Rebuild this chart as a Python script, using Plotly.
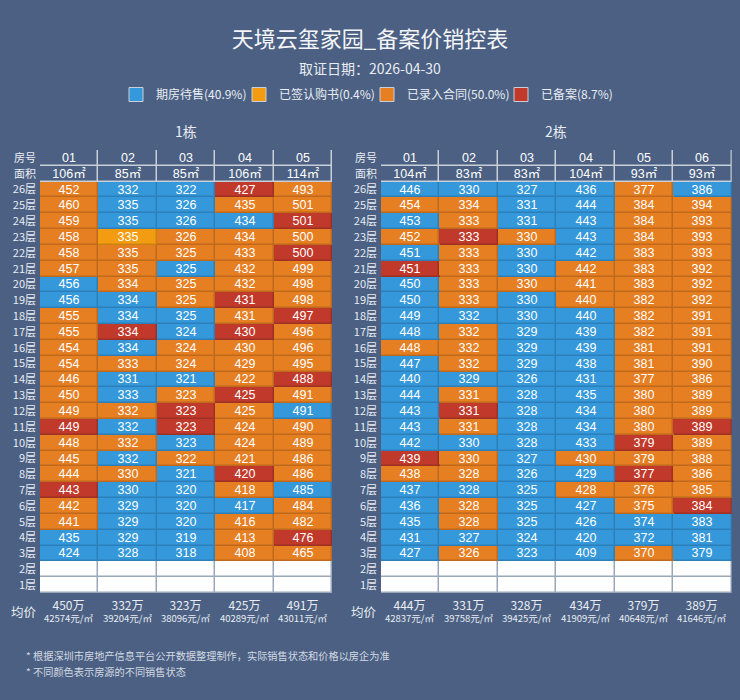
import plotly.graph_objects as go

# ---------------- data ----------------
title_text = "天境云玺家园_备案价销控表"
subtitle_text = "取证日期：2026-04-30"
footer_lines = ["* 根据深圳市房地产信息平台公开数据整理制作，实际销售状态和价格以房企为准",
                "* 不同颜色表示房源的不同销售状态"]

floor_labels = ["26层", "25层", "24层", "23层", "22层", "21层", "20层", "19层", "18层", "17层",
                "16层", "15层", "14层", "13层", "12层", "11层", "10层", "9层", "8层", "7层",
                "6层", "5层", "4层", "3层", "2层", "1层"]
header_labels = ["房号", "面积"]

# status codes: B = 期房待售, Y = 已签认购书, O = 已录入合同, R = 已备案, E = 无房源
status_order = ["B", "Y", "O", "R"]
status_names = {"B": "期房待售", "Y": "已签认购书", "O": "已录入合同", "R": "已备案"}

b1_name = "1栋"
b1_units = ["01", "02", "03", "04", "05"]
b1_areas = ["106㎡", "85㎡", "85㎡", "106㎡", "114㎡"]
b1_prices = [
    [452, 332, 322, 427, 493], [460, 335, 326, 435, 501], [459, 335, 326, 434, 501],
    [458, 335, 326, 434, 500], [458, 335, 325, 433, 500], [457, 335, 325, 432, 499],
    [456, 334, 325, 432, 498], [456, 334, 325, 431, 498], [455, 334, 325, 431, 497],
    [455, 334, 324, 430, 496], [454, 334, 324, 430, 496], [454, 333, 324, 429, 495],
    [446, 331, 321, 422, 488], [450, 333, 323, 425, 491], [449, 332, 323, 425, 491],
    [449, 332, 323, 424, 490], [448, 332, 323, 424, 489], [445, 332, 322, 421, 486],
    [444, 330, 321, 420, 486], [443, 330, 320, 418, 485], [442, 329, 320, 417, 484],
    [441, 329, 320, 416, 482], [435, 329, 319, 413, 476], [424, 328, 318, 408, 465],
    [None] * 5, [None] * 5,
]
b1_status = ["OBBRO", "OBBOO", "OBBBR", "OYOOO", "OOOOR", "OOBOO", "BOOOO", "BBORO",
             "OBBOR", "ORBRO", "OBOOO", "OOOOO", "OBBOR", "OBORO", "OOROB", "RBROO",
             "OOBOO", "OBOOO", "OOBRO", "RBBOB", "OBBBO", "OBBOO", "BBBOR", "BBBOO",
             "EEEEE", "EEEEE"]
b1_avg_total = [450, 332, 323, 425, 491]
b1_avg_unit = [42574, 39204, 38096, 40289, 43011]

b2_name = "2栋"
b2_units = ["01", "02", "03", "04", "05", "06"]
b2_areas = ["104㎡", "83㎡", "83㎡", "104㎡", "93㎡", "93㎡"]
b2_prices = [
    [446, 330, 327, 436, 377, 386], [454, 334, 331, 444, 384, 394], [453, 333, 331, 443, 384, 393],
    [452, 333, 330, 443, 384, 393], [451, 333, 330, 442, 383, 393], [451, 333, 330, 442, 383, 392],
    [450, 333, 330, 441, 383, 392], [450, 333, 330, 440, 382, 392], [449, 332, 330, 440, 382, 391],
    [448, 332, 329, 439, 382, 391], [448, 332, 329, 439, 381, 391], [447, 332, 329, 438, 381, 390],
    [440, 329, 326, 431, 377, 386], [444, 331, 328, 435, 380, 389], [443, 331, 328, 434, 380, 389],
    [443, 331, 328, 434, 380, 389], [442, 330, 328, 433, 379, 389], [439, 330, 327, 430, 379, 388],
    [438, 328, 326, 429, 377, 386], [437, 328, 325, 428, 376, 385], [436, 328, 325, 427, 375, 384],
    [435, 328, 325, 426, 374, 383], [431, 327, 324, 420, 372, 381], [427, 326, 323, 409, 370, 379],
    [None] * 6, [None] * 6,
]
b2_status = ["BBBBOB", "OOBBOO", "BOBBOO", "OROBOO", "BOBBOO", "ROBOOO", "BOOOOO", "BOBOOO",
             "BBBBOO", "BOBBOO", "OOBBOO", "BOBBOO", "BBBBOO", "BOBBOO", "BRBBOO", "BOBBOR",
             "BBBBRO", "ROBOOO", "OOBBRO", "BBBOOO", "BOBBOR", "BOBBBB", "BBBBBB", "BOBBOB",
             "EEEEEE", "EEEEEE"]
b2_avg_total = [444, 331, 328, 434, 379, 389]
b2_avg_unit = [42837, 39758, 39425, 41909, 40648, 41646]

# ---------------- style ----------------
BG = "#4b6082"
FONT = "Noto Sans CJK SC, Noto Sans, sans-serif"
CELL_FONT = "Liberation Sans, Noto Sans CJK SC, sans-serif"
TXT = "#e9edf3"
W, H = 740, 700

code_index = {"H": 0, "B": 1, "Y": 2, "O": 3, "R": 4, "E": 5}
fill_colors = [BG, "#3498db", "#f39c12", "#e67e22", "#c0392b", "#ffffff"]
line_colors = ["#c9cfd9", "#2c7fb8", "#c98410", "#bf691d", "#9e3126", "#9aa6ba"]
status_fill = {"B": "#3498db", "Y": "#f39c12", "O": "#e67e22", "R": "#c0392b"}
legend_text_left = [154, 277, 405, 539]   # pixel start of each legend label


def discrete_scale(colors):
    n = len(colors)
    cs = []
    for i, c in enumerate(colors):
        cs.append([i / n, c])
        cs.append([(i + 1) / n, c])
    return cs


def building_grid(units, areas, prices, status):
    z = [[0] * len(units), [0] * len(units)]
    text = [list(units), list(areas)]
    for prow, srow in zip(prices, status):
        z.append([code_index[s] for s in srow])
        text.append(["" if p is None else str(p) for p in prow])
    return z, text


def px_x(p):
    return p / W


def px_y(p):
    return 1 - p / H


def note(text, x, y, size, color=TXT, xref="paper", xanchor="center"):
    fig.add_annotation(x=x, xref=xref, y=px_y(y), yref="paper", text=text, showarrow=False,
                       xanchor=xanchor, yanchor="middle", borderpad=0,
                       font=dict(size=size, color=color, family=FONT))


y_cats = header_labels + floor_labels
fig = go.Figure()

buildings = [
    (b1_name, b1_units, b1_areas, b1_prices, b1_status, b1_avg_total, b1_avg_unit, "x", "y"),
    (b2_name, b2_units, b2_areas, b2_prices, b2_status, b2_avg_total, b2_avg_unit, "x2", "y2"),
]

for name, units, areas, prices, status, avg_t, avg_u, xa, ya in buildings:
    z, text = building_grid(units, areas, prices, status)
    fig.add_trace(go.Heatmap(z=z, x=units, y=y_cats, xaxis=xa, yaxis=ya,
                             colorscale=discrete_scale(line_colors), zmin=-0.5, zmax=5.5,
                             showscale=False, hoverinfo="skip"))
    fig.add_trace(go.Heatmap(z=z, x=units, y=y_cats, xaxis=xa, yaxis=ya, text=text,
                             texttemplate="%{text}",
                             textfont=dict(size=12.5, color="#ffffff", family=CELL_FONT),
                             colorscale=discrete_scale(fill_colors), zmin=-0.5, zmax=5.5,
                             xgap=1.5, ygap=1.5, showscale=False, hoverinfo="skip"))
    for i, (t, pu) in enumerate(zip(avg_t, avg_u)):
        note(f"<span style='font-size:12px'>{t}万</span><br>{pu}元/㎡", i, 610.5, 9.5, xref=xa)
    note(name, 0.5, 131.5, 14, xref=f"{xa} domain")

# 均价 labels
for cx in (23.5, 364):
    note("均价", px_x(cx), 611, 12.5)

# legend entries from status counts, each in its own legend box
all_status = "".join(b1_status + b2_status).replace("E", "")
total = len(all_status)
legend_layout = {}
for k, code in enumerate(status_order):
    pct = all_status.count(code) / total * 100
    lg = "legend" if k == 0 else f"legend{k + 1}"
    fig.add_trace(go.Scatter(x=[None], y=[None], mode="markers", legend=lg,
                             name=f"{status_names[code]}({pct:.1f}%)",
                             marker=dict(symbol="square", size=14, color=status_fill[code],
                                         line=dict(color="#c9cfd9", width=1)),
                             hoverinfo="skip"))
    legend_layout[lg] = dict(orientation="h", x=px_x(legend_text_left[k] + 2 - 40), xanchor="left",
                             y=px_y(94.5), yanchor="middle", xref="container", yref="container",
                             bgcolor="rgba(0,0,0,0)", borderwidth=0, itemwidth=30,
                             font=dict(size=12, color=TXT, family=FONT))

note(subtitle_text, 0.5, 67.5, 14)
for i, line in enumerate(footer_lines):
    note(line, px_x(25), 655 + i * 16.7, 10.2, color="#d3d9e3", xanchor="left")

axis_common = dict(type="category", showgrid=False, zeroline=False, showline=False,
                   fixedrange=True, automargin=False)
yaxis_common = dict(domain=[px_y(593), px_y(150)], range=[len(y_cats) - 0.5, -0.5],
                    categoryorder="array", categoryarray=y_cats, ticks="", ticklabelstandoff=3,
                    tickfont=dict(size=11, color=TXT, family=FONT), **axis_common)
fig.update_layout(
    width=W, height=H,
    margin=dict(l=0, r=0, t=0, b=0, autoexpand=False),
    paper_bgcolor=BG, plot_bgcolor=BG,
    font=dict(family=FONT, color=TXT),
    title=dict(text=title_text, x=0.5, xanchor="center", y=px_y(39.5), yanchor="middle",
               font=dict(size=22, color="#f3f5f8", family=FONT)),
    showlegend=True,
    xaxis=dict(domain=[px_x(40), px_x(332.3)], anchor="y", showticklabels=False,
               range=[-0.5, len(b1_units) - 0.5], **axis_common),
    xaxis2=dict(domain=[px_x(381), px_x(731.7)], anchor="y2", showticklabels=False,
                range=[-0.5, len(b2_units) - 0.5], **axis_common),
    yaxis=dict(anchor="x", **yaxis_common),
    yaxis2=dict(anchor="x2", **yaxis_common),
    **legend_layout,
)

fig.write_html("out.html", config={"displayModeBar": False},
               post_script="document.body.style.margin='0';")
